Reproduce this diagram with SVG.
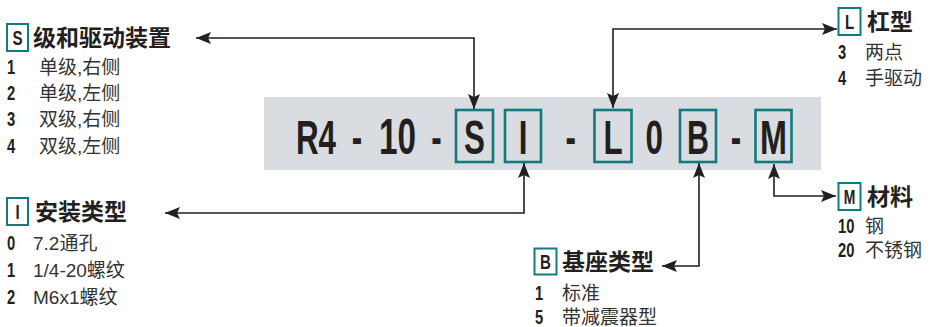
<svg xmlns="http://www.w3.org/2000/svg" width="930" height="327" viewBox="0 0 930 327">
<style>
.code{font-family:"Liberation Sans",Arial,sans-serif;font-weight:bold;font-size:49px;fill:#231f20;text-anchor:middle}
.cbox{fill:none;stroke:#137b7c;stroke-width:2.6}
.lbox{fill:#fff;stroke:#137b7c;stroke-width:2}
.lch{font-family:"Liberation Sans",Arial,sans-serif;font-weight:bold;font-size:21px;fill:#231f20;text-anchor:middle}
.title{font-family:"Noto Sans CJK SC","Noto Sans",sans-serif;font-weight:bold;font-size:23px;fill:#231f20}
.num{font-family:"Liberation Sans",Arial,sans-serif;font-weight:bold;font-size:20.5px;fill:#231f20}
.body{font-family:"Liberation Sans","Noto Sans CJK SC",sans-serif;font-size:19px;fill:#333}
.conn{fill:none;stroke:#231f20;stroke-width:1.6}
</style>
<defs>
<marker id="ah" markerUnits="userSpaceOnUse" markerWidth="16" markerHeight="12" refX="15" refY="6" orient="auto-start-reverse">
<path d="M0,0 L15,6 L0,12 L3,6 Z" fill="#231f20"/>
</marker>
</defs>

<rect id="band" x="264" y="97" width="557" height="73" fill="#d9dce0"/>

<g id="code">
<text class="code" transform="translate(316,154) scale(0.64,1)">R4</text>
<text class="code" transform="translate(357,154) scale(0.64,1)">-</text>
<text class="code" transform="translate(397.5,154) scale(0.68,1)">10</text>
<text class="code" transform="translate(436.5,154) scale(0.64,1)">-</text>
<text class="code" transform="translate(570.7,154) scale(0.64,1)">-</text>
<text class="code" transform="translate(654.3,154) scale(0.64,1)">0</text>
<text class="code" transform="translate(736,154) scale(0.64,1)">-</text>
</g>
<g id="code-S">
<rect class="cbox" x="456" y="110" width="37" height="52"/>
<text class="code" transform="translate(474.5,154) scale(0.64,1)">S</text>
</g>
<g id="code-I">
<rect class="cbox" x="505" y="110" width="36" height="52"/>
<text class="code" transform="translate(523,154) scale(0.64,1)">I</text>
</g>
<g id="code-L">
<rect class="cbox" x="594.5" y="110" width="37" height="52"/>
<text class="code" transform="translate(613,154) scale(0.64,1)">L</text>
</g>
<g id="code-B">
<rect class="cbox" x="680" y="110" width="36" height="52"/>
<text class="code" transform="translate(698,154) scale(0.62,1)">B</text>
</g>
<g id="code-M">
<rect class="cbox" x="755.5" y="110" width="36" height="52"/>
<text class="code" transform="translate(773.5,154) scale(0.66,1)">M</text>
</g>

<g id="connectors">
<path class="conn" d="M196,38 H474 V109" marker-start="url(#ah)" marker-end="url(#ah)"/>
<path class="conn" d="M613,108 V29 H837" marker-start="url(#ah)" marker-end="url(#ah)"/>
<path class="conn" d="M165,213 H524 V163" marker-start="url(#ah)" marker-end="url(#ah)"/>
<path class="conn" d="M662,266 H699 V163" marker-start="url(#ah)" marker-end="url(#ah)"/>
<path class="conn" d="M774,164 V196 H836" marker-start="url(#ah)" marker-end="url(#ah)"/>
</g>

<g id="legend-S">
<rect class="lbox" x="7" y="24" width="21" height="27"/>
<text class="lch" transform="translate(17.5,45) scale(0.72,1)">S</text>
<text class="title" x="33" y="46">级和驱动装置</text>
<text class="num" transform="translate(7,73.5) scale(0.72,1)">1</text><text class="body" x="39" y="73.5">单级,右侧</text>
<text class="num" transform="translate(7,99.5) scale(0.72,1)">2</text><text class="body" x="39" y="99.5">单级,左侧</text>
<text class="num" transform="translate(7,126) scale(0.72,1)">3</text><text class="body" x="39" y="126">双级,右侧</text>
<text class="num" transform="translate(7,152.5) scale(0.72,1)">4</text><text class="body" x="39" y="152.5">双级,左侧</text>
</g>

<g id="legend-I">
<rect class="lbox" x="7" y="198" width="21" height="27"/>
<text class="lch" transform="translate(17.5,219) scale(0.72,1)">I</text>
<text class="title" x="35" y="220">安装类型</text>
<text class="num" transform="translate(7,250) scale(0.72,1)">0</text><text class="body" x="33" y="250">7.2通孔</text>
<text class="num" transform="translate(7,277) scale(0.72,1)">1</text><text class="body" x="33" y="277">1/4-20螺纹</text>
<text class="num" transform="translate(7,303.5) scale(0.72,1)">2</text><text class="body" x="33" y="303.5">M6x1螺纹</text>
</g>

<g id="legend-B">
<rect class="lbox" x="534.5" y="248.5" width="22" height="26"/>
<text class="lch" transform="translate(545.5,269) scale(0.72,1)">B</text>
<text class="title" x="562" y="270">基座类型</text>
<text class="num" transform="translate(535,300) scale(0.72,1)">1</text><text class="body" x="562" y="300">标准</text>
<text class="num" transform="translate(535,323.5) scale(0.72,1)">5</text><text class="body" x="562" y="323.5">带减震器型</text>
</g>

<g id="legend-L">
<rect class="lbox" x="838.5" y="8" width="22" height="27"/>
<text class="lch" transform="translate(849.5,29) scale(0.72,1)">L</text>
<text class="title" x="867" y="30">杠型</text>
<text class="num" transform="translate(838,58.5) scale(0.72,1)">3</text><text class="body" x="865" y="58.5">两点</text>
<text class="num" transform="translate(838,85) scale(0.72,1)">4</text><text class="body" x="865" y="85">手驱动</text>
</g>

<g id="legend-M">
<rect class="lbox" x="838.5" y="183" width="22" height="27"/>
<text class="lch" transform="translate(849.5,204) scale(0.66,1)">M</text>
<text class="title" x="867" y="205">材料</text>
<text class="num" transform="translate(838,233) scale(0.72,1)">10</text><text class="body" x="865" y="233">钢</text>
<text class="num" transform="translate(838,257) scale(0.72,1)">20</text><text class="body" x="865" y="257">不锈钢</text>
</g>
</svg>
